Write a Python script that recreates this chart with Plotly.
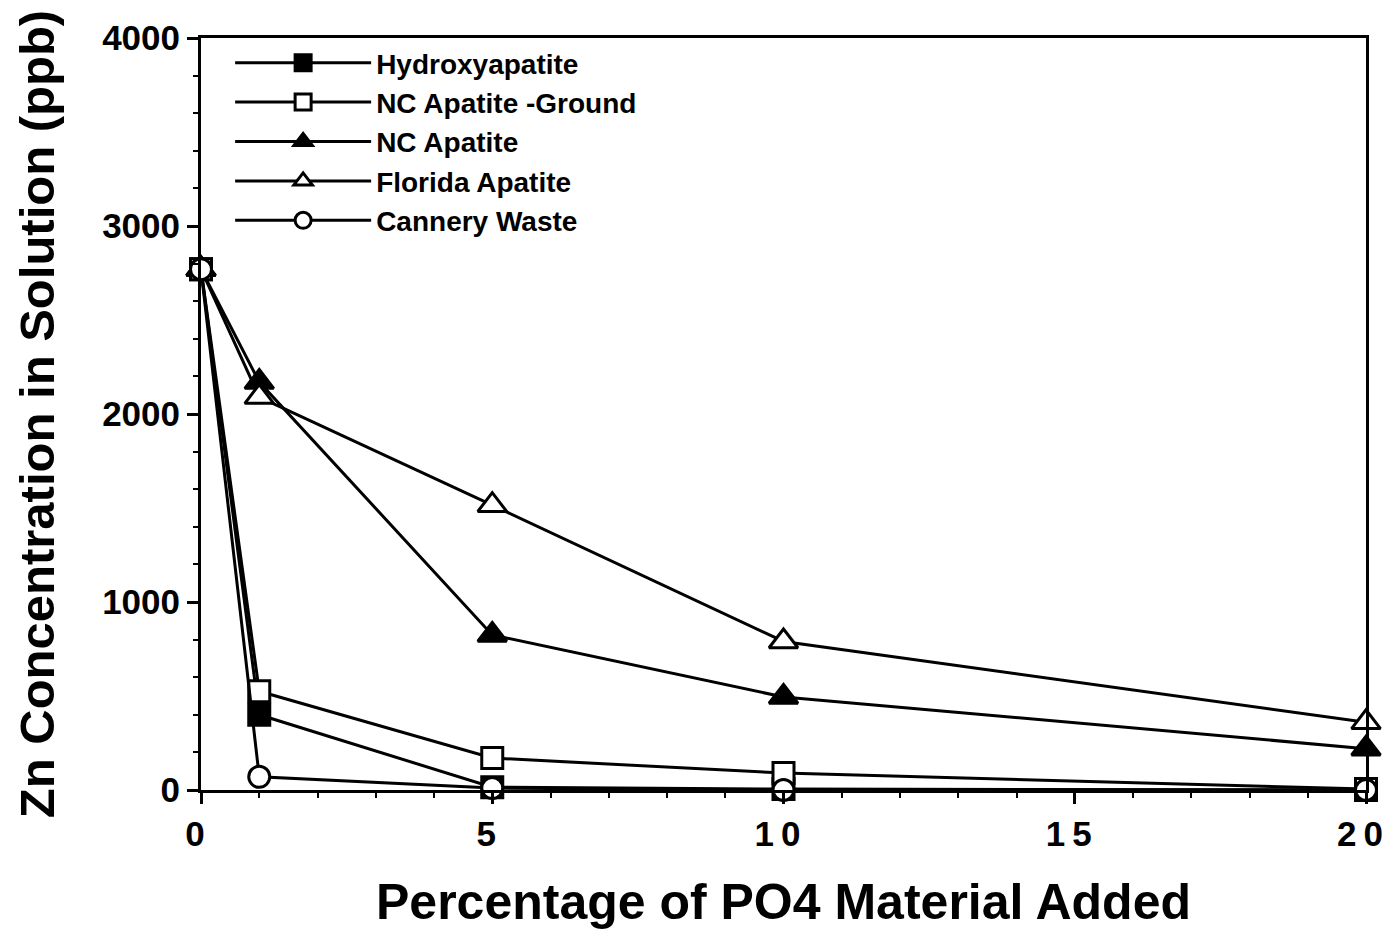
import plotly.graph_objects as go

x_pct = [0, 1, 5, 10, 20]
hydroxyapatite = [2770, 400, 15, 5, 0]
nc_ground = [2770, 525, 170, 90, 5]
nc_apatite = [2770, 2170, 825, 495, 220]
florida = [2770, 2090, 1515, 790, 360]
cannery = [2770, 70, 10, 0, 0]

series = [
    ("Hydroxyapatite", hydroxyapatite, "square", "black", 21),
    ("NC Apatite -Ground", nc_ground, "square", "white", 21),
    ("NC Apatite", nc_apatite, "triangle-up", "black", 25),
    ("Florida Apatite", florida, "triangle-up", "white", 25),
    ("Cannery Waste", cannery, "circle", "white", 21),
]

x_tickvals = [0, 5, 10, 15, 20]
x_ticktext = ["0", "5", "1\u20090", "1\u20095", "2\u20090"]
y_tickvals = [0, 1000, 2000, 3000, 4000]

FONT = "Liberation Sans, Arial, Helvetica, sans-serif"

fig = go.Figure()
for name, vals, sym, fill, sz in series:
    fig.add_trace(go.Scatter(
        x=x_pct, y=vals, name=name, mode="lines+markers",
        line=dict(color="black", width=3),
        marker=dict(symbol=sym, size=sz, color=fill,
                    line=dict(color="black", width=3)),
        cliponaxis=False,
    ))

fig.update_layout(
    width=1384, height=930,
    paper_bgcolor="white", plot_bgcolor="white",
    margin=dict(l=201, r=18, t=38, b=140, autoexpand=False),
    font=dict(family=FONT, color="black", size=28),
    showlegend=True,
    legend=dict(
        x=0.025, y=1.0, xanchor="left", yanchor="top",
        bgcolor="rgba(0,0,0,0)", borderwidth=0,
        font=dict(family=FONT, size=28, color="black", weight="bold"),
        tracegroupgap=0, itemwidth=136,
    ),
)

fig.update_xaxes(
    range=[0, 20], tickvals=x_tickvals, ticktext=x_ticktext,
    automargin=False,
    showgrid=False, zeroline=False,
    showline=True, linecolor="black", linewidth=3, mirror=True,
    ticks="outside", ticklen=11, tickwidth=3, tickcolor="black",
    minor=dict(dtick=1, ticks="outside", ticklen=5, tickwidth=2, tickcolor="black"),
    tickfont=dict(family=FONT, size=35, color="black", weight="bold"),
    ticklabeloverflow="allow", ticklabelshift=-6,
    title=dict(text="Percentage of PO4 Material Added",
               font=dict(family=FONT, size=50, color="black", weight="bold"),
               standoff=34),
)
fig.update_yaxes(
    range=[0, 4000], tickvals=y_tickvals,
    automargin=False,
    showgrid=False, zeroline=False,
    showline=True, linecolor="black", linewidth=3, mirror=True,
    ticks="outside", ticklen=11, tickwidth=3, tickcolor="black",
    minor=dict(dtick=200, ticks="outside", ticklen=5, tickwidth=2, tickcolor="black"),
    tickfont=dict(family=FONT, size=35, color="black", weight="bold"),
    title=dict(text="Zn Concentration in Solution (ppb)",
               font=dict(family=FONT, size=49, color="black", weight="bold"),
               standoff=32),
)

fig.write_html("out.html")
